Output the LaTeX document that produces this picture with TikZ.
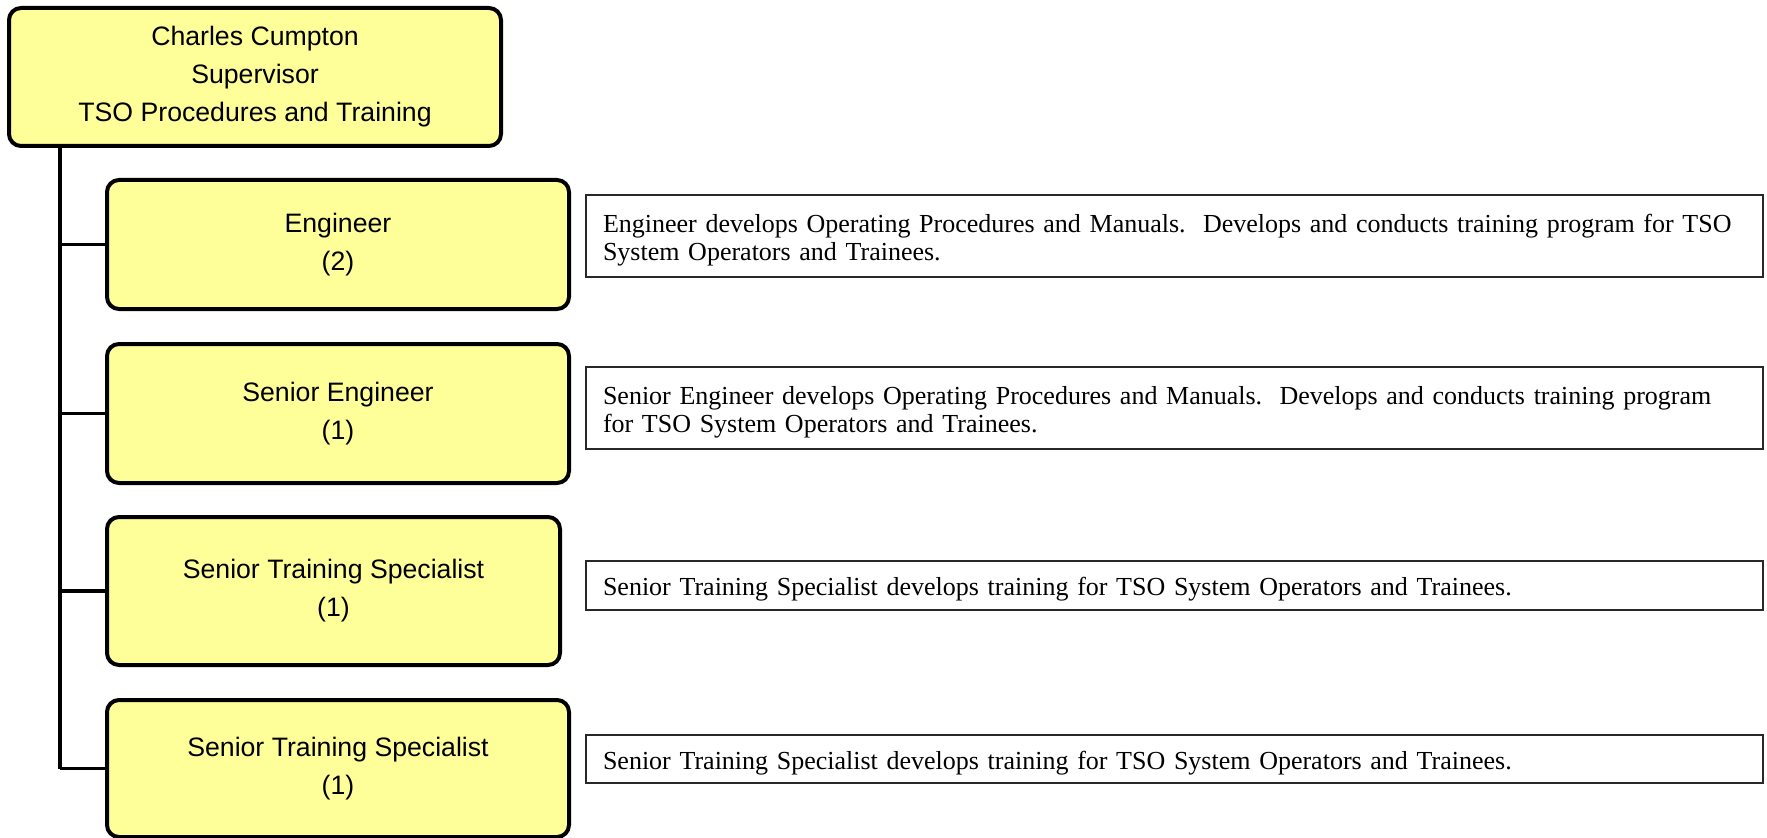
\documentclass[tikz,border=0pt]{standalone}
\usepackage{fontspec}
\setmainfont{Liberation Serif}
\newfontfamily\arialf{Liberation Sans}
\definecolor{boxyellow}{RGB}{255,255,153}
\definecolor{descborder}{RGB}{40,40,40}
\def\u{0.75pt}
\newcommand\descstrut{\rule{0pt}{19.5pt}}
\begin{document}
\begin{tikzpicture}[x=0.75pt,y=-0.75pt,
  ybox/.style={draw=black, line width=3pt, fill=boxyellow, rounded corners=9pt,
    align=center, inner sep=0pt, font=\arialf\fontsize{20}{28.5}\selectfont},
  dbox/.style={draw=descborder, line width=1.1pt, fill=white, inner sep=0pt,
    inner xsep=17*\u, text width=1143*\u, align=left, minimum width=1177*\u,
    font=\fontsize{19.5}{20.75}\selectfont},
  link/.style={draw=black, line width=2.6pt}]
\useasboundingbox (0,0) rectangle (1767,838);

\node[ybox, minimum width=492*\u, minimum height=138*\u] (top) at (255,77)
  {Charles Cumpton\\Supervisor\\TSO Procedures and Training};

\node[ybox, minimum width=462*\u, minimum height=129*\u] (eng) at (338,244.5)
  {Engineer\\(2)};
\node[ybox, minimum width=462*\u, minimum height=139*\u] (seng) at (338,413.5)
  {Senior Engineer\\(1)};
\node[ybox, minimum width=453*\u, minimum height=148*\u] (sts1) at (333.5,591)
  {Senior Training Specialist\\(1)};
\node[ybox, minimum width=462*\u, minimum height=137*\u] (sts2) at (338,768.5)
  {Senior Training Specialist\\(1)};

\coordinate (t0) at (60,145);
\draw[link] (t0) -- (t0 |- sts2.west);
\draw[link] (t0 |- eng.west) -- (eng.west);
\draw[link] (t0 |- seng.west) -- (seng.west);
\draw[link] (t0 |- sts1.west) -- (sts1.west);
\draw[link] (t0 |- sts2.west) -- (sts2.west);

\node[dbox, minimum height=82*\u] (d1) at (1174.5,236)
  {\descstrut Engineer develops Operating Procedures and Manuals.\ \ Develops and conducts training program for TSO\\System Operators and Trainees.};
\node[dbox, minimum height=82*\u] (d2) at (1174.5,408)
  {\descstrut Senior Engineer develops Operating Procedures and Manuals.\ \ Develops and conducts training program\\for TSO System Operators and Trainees.};
\node[dbox, minimum height=49*\u] (d3) at (1174.5,585.5)
  {\descstrut Senior Training Specialist develops training for TSO System Operators and Trainees.};
\node[dbox, minimum height=48*\u] (d4) at (1174.5,759)
  {\descstrut Senior Training Specialist develops training for TSO System Operators and Trainees.};
\end{tikzpicture}
\end{document}
